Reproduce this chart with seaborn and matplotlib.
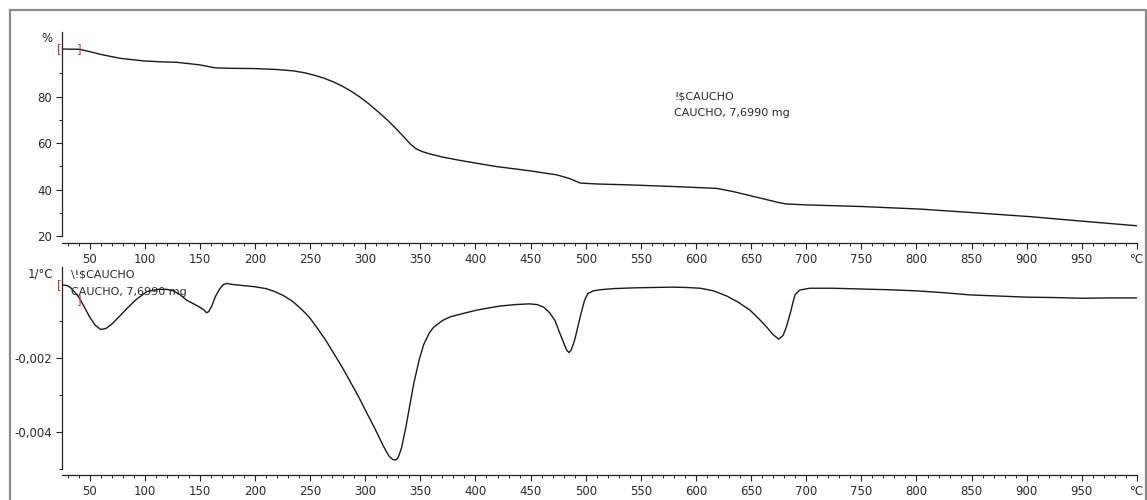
import numpy as np
import pandas as pd
import matplotlib
matplotlib.use("Agg")
import matplotlib.pyplot as plt
from matplotlib.patches import Rectangle
from matplotlib.ticker import MultipleLocator, FixedLocator
import seaborn as sns

# Thermogravimetric curve: temperature (°C) vs. remaining mass (%)
tg_temp = [25, 41, 50, 62, 78, 99, 115, 129, 150, 164, 180, 200, 220, 235,
           245, 255, 263, 271, 279, 287, 295, 303, 311, 320, 328, 335, 341,
           346, 352, 359, 370, 389, 419, 449, 474, 485, 495, 510, 540, 580,
           619, 634, 655, 676, 682, 700, 750, 803, 850, 904, 950, 1000]
tg_mass = [100.5, 100.4, 99.4, 98.0, 96.5, 95.4, 95.0, 94.8, 93.7, 92.4, 92.2,
           92.1, 91.7, 91.1, 90.3, 89.1, 87.9, 86.4, 84.6, 82.4, 79.9, 77.0,
           73.8, 70.0, 66.2, 62.7, 59.6, 57.6, 56.3, 55.3, 54.0, 52.3, 49.9,
           48.1, 46.3, 44.8, 42.8, 42.4, 42.0, 41.3, 40.5, 39.1, 36.7, 34.3,
           33.8, 33.4, 32.7, 31.6, 30.1, 28.3, 26.4, 24.4]

# First derivative of the mass curve (1/°C)
dtg_temp = [25, 30, 33, 36, 40, 45, 50, 55, 60, 65, 70, 76, 84, 92, 102, 112,
            120, 126, 132, 138, 145, 150, 154, 156, 158, 161, 164, 168, 171,
            174, 180, 190, 200, 210, 218, 226, 234, 241, 249, 256, 264, 271,
            279, 286, 294, 301, 309, 316, 320, 322, 325, 328, 330, 333, 337,
            344, 349, 353, 358, 362, 370, 377, 390, 401, 412, 422, 436, 449,
            456, 462, 467, 472, 476, 480, 483, 485, 487, 490, 493, 496, 499,
            502, 507, 513, 525, 543, 560, 579, 592, 604, 616, 628, 638, 649,
            657, 664, 670, 675, 679, 682, 686, 688, 690, 694, 703, 725, 749,
            775, 800, 825, 849, 875, 900, 925, 951, 975, 1000]
dtg_rate = [-0.00004, -0.00006, -0.00012, -0.00022, -0.00036, -0.00062,
            -0.00090, -0.00112, -0.00124, -0.00121, -0.00110, -0.00092,
            -0.00067, -0.00044, -0.00022, -0.00016, -0.00016, -0.00020,
            -0.00030, -0.00045, -0.00056, -0.00064, -0.00072, -0.00079,
            -0.00076, -0.00060, -0.00036, -0.00015, -0.00004, 0.00000,
            -0.00003, -0.00006, -0.00009, -0.00014, -0.00022, -0.00033,
            -0.00048, -0.00066, -0.00090, -0.00118, -0.00152, -0.00186,
            -0.00225, -0.00262, -0.00305, -0.00346, -0.00392, -0.00435,
            -0.00457, -0.00466, -0.00474, -0.00475, -0.00468, -0.00442,
            -0.00385, -0.00270, -0.00205, -0.00165, -0.00134, -0.00118,
            -0.00100, -0.00090, -0.00080, -0.00072, -0.00066, -0.00061,
            -0.00057, -0.00055, -0.00057, -0.00064, -0.00078, -0.00099,
            -0.00130, -0.00160, -0.00181, -0.00186, -0.00178, -0.00152,
            -0.00115, -0.00078, -0.00045, -0.00027, -0.00020, -0.00017,
            -0.00014, -0.00012, -0.00011, -0.00010, -0.00011, -0.00013,
            -0.00020, -0.00034, -0.00050, -0.00072, -0.00095, -0.00117,
            -0.00138, -0.00150, -0.00140, -0.00117, -0.00075, -0.00050,
            -0.00030, -0.00018, -0.00013, -0.00013, -0.00015, -0.00017,
            -0.00020, -0.00025, -0.00031, -0.00034, -0.00037, -0.00038,
            -0.00040, -0.00039, -0.00039]

# Axis ticks and labels
x_major = [50, 100, 150, 200, 250, 300, 350, 400, 450, 500, 550, 600, 650,
           700, 750, 800, 850, 900, 950, 1000]
x_labels = ["50", "100", "150", "200", "250", "300", "350", "400", "450",
            "500", "550", "600", "650", "700", "750", "800", "850", "900",
            "950", "°C"]
tg_yticks = [20, 40, 60, 80]
tg_ylabels = ["20", "40", "60", "80"]
dtg_yticks = [-0.004, -0.002]
dtg_ylabels = ["-0,004", "-0,002"]

sample_id = "!$CAUCHO"
sample_desc = "CAUCHO, 7,6990 mg"

sns.set_style("ticks")
plt.rcParams["font.family"] = ["DejaVu Sans"]

W, H = 1147, 500
fig = plt.figure(figsize=(W / 100, H / 100), dpi=100)
fig.patch.set_facecolor("white")

# outer window frame
fig.add_artist(Rectangle((10 / W, -0.1), (1146 - 10) / W, 1.1 - 10 / H,
                         transform=fig.transFigure, fill=False,
                         edgecolor="#8c8c8c", lw=1.6))

ax_tg = fig.add_axes([62 / W, (H - 236) / H, 1075 / W, 204 / H])
ax_dtg = fig.add_axes([62 / W, (H - 469.2) / H, 1075 / W, 202.5 / H])

tg_df = pd.DataFrame({"T": tg_temp, "m": tg_mass})
dtg_df = pd.DataFrame({"T": dtg_temp, "r": dtg_rate})
sns.lineplot(data=tg_df, x="T", y="m", ax=ax_tg, color="#1a1a1a", lw=1.0,
             sort=False)
sns.lineplot(data=dtg_df, x="T", y="r", ax=ax_dtg, color="#1a1a1a", lw=1.0,
             sort=False)

txt_color = "#2a2a2a"
for ax, off in ((ax_tg, 5.0), (ax_dtg, 4.3)):
    ax.set_xlim(25, 1000)
    ax.set_xlabel("")
    ax.set_ylabel("")
    for s in ("top", "right"):
        ax.spines[s].set_visible(False)
    ax.spines["bottom"].set_position(("outward", off))
    for s in ("left", "bottom"):
        ax.spines[s].set_linewidth(0.9)
        ax.spines[s].set_color("#222222")
    ax.xaxis.set_major_locator(FixedLocator(x_major))
    ax.set_xticklabels(x_labels)
    ax.xaxis.set_minor_locator(MultipleLocator(10))
    ax.tick_params(axis="both", which="major", direction="out", length=4,
                   width=0.8, labelsize=8.5, colors="#222222",
                   labelcolor=txt_color, pad=3)
    ax.tick_params(axis="both", which="minor", direction="out", length=2.5,
                   width=0.7, colors="#222222")

ax_tg.set_ylim(20, 107.85)
ax_tg.set_yticks(tg_yticks)
ax_tg.set_yticklabels(tg_ylabels)
ax_tg.yaxis.set_minor_locator(FixedLocator([30, 50, 70, 90]))

ax_dtg.set_ylim(-0.005, 0.00045)
ax_dtg.set_yticks(dtg_yticks)
ax_dtg.set_yticklabels(dtg_ylabels)
ax_dtg.yaxis.set_minor_locator(FixedLocator([-0.005, -0.003, -0.001]))

# unit labels at the top of the value axes
fig.text(47 / W, 1 - 39 / H, "%", ha="center", va="center", fontsize=8.5,
         color=txt_color)
fig.text(53 / W, 1 - 274 / H, "1/°C", ha="right", va="center", fontsize=8.5,
         color=txt_color)

# curve annotations
ax_tg.text(580, 80.0, sample_id, fontsize=8, color=txt_color, va="center")
ax_tg.text(580, 72.9, sample_desc, fontsize=8, color=txt_color, va="center")
ax_dtg.text(33.5, 0.00023, "\\" + sample_id, fontsize=8, color=txt_color,
            va="center")
ax_dtg.text(33.5, -0.00022, sample_desc, fontsize=8, color=txt_color,
            va="center")

# evaluation range brackets
red = "#e8302a"
for ax, x0, y0, x1, y1 in ((ax_tg, 23, 100.4, 41, 100.4),
                           (ax_dtg, 23, -0.00007, 41, -0.00047)):
    ax.text(x0, y0, "[", color=red, fontsize=8.5, ha="center", va="center",
            clip_on=False)
    ax.text(x1, y1, "]", color=red, fontsize=8.5, ha="center", va="center",
            clip_on=False)

fig.savefig("out.png", dpi=100, facecolor="white")
